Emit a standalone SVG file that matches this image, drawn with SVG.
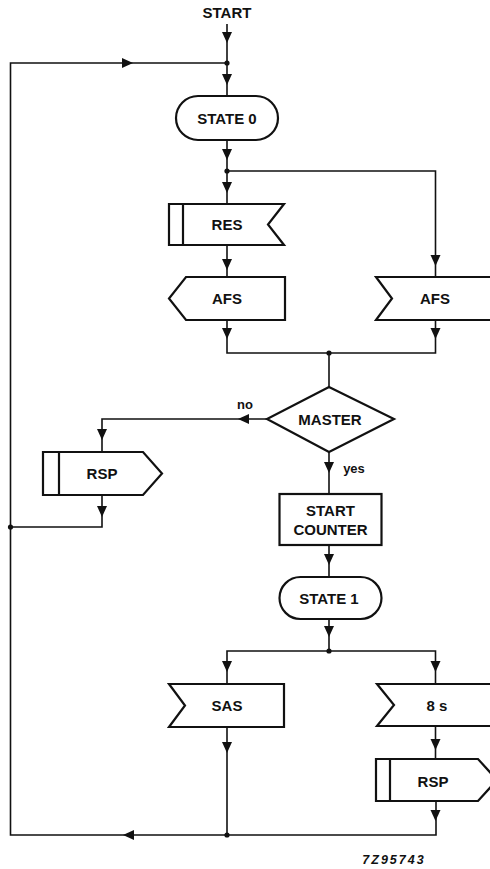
<svg xmlns="http://www.w3.org/2000/svg" width="490" height="869" viewBox="0 0 490 869">
  <style>
    .box { fill: #fff; stroke: #111; stroke-width: 2.2; stroke-linejoin: miter; }
    .bar { stroke: #111; stroke-width: 2.2; }
    .wire { fill: none; stroke: #111; stroke-width: 1.6; }
    .dot { fill: #111; }
    .head { fill: #111; }
    .lbl { font-family: "Liberation Sans", Arial, sans-serif; font-weight: bold; font-size: 15px; fill: #111; text-anchor: middle; }
    .small { font-family: "Liberation Sans", Arial, sans-serif; font-weight: bold; font-size: 13px; fill: #111; text-anchor: middle; }
    .ref { font-family: "Liberation Sans", Arial, sans-serif; font-weight: bold; font-style: italic; font-size: 12.5px; letter-spacing: 2px; fill: #111; text-anchor: middle; }
  </style>
  <defs>
    <!-- arrowhead pointing down, tip at origin -->
    <path id="ah" class="head" d="M-5,-11 L5,-11 L0,0 Z"/>
  </defs>
  <rect width="490" height="869" fill="#fff"/>

  <g id="connectors">
    <!-- main line from START into STATE 0 -->
    <path class="wire" d="M227,24 V96"/>
    <!-- return loop on the left -->
    <path class="wire" d="M227,63 H10.5 V835 H436 V801"/>
    <!-- STATE 0 fan-out -->
    <path class="wire" d="M227,140 V204"/>
    <path class="wire" d="M227,171 H435.5 V277"/>
    <path class="wire" d="M227,245 V277"/>
    <!-- merge into MASTER -->
    <path class="wire" d="M227,320 V353 H435.5 V320"/>
    <path class="wire" d="M329,353 V387"/>
    <!-- no branch -->
    <path class="wire" d="M267,419 H102 V452"/>
    <path class="wire" d="M102,495 V527 H10.5"/>
    <!-- yes branch -->
    <path class="wire" d="M329,452 V494"/>
    <path class="wire" d="M329,545 V577"/>
    <!-- STATE 1 fan-out -->
    <path class="wire" d="M329,619 V651"/>
    <path class="wire" d="M227,684 V651 H435.5 V684"/>
    <path class="wire" d="M227,727 V835"/>
    <path class="wire" d="M435.5,726 V759"/>

    <!-- arrowheads -->
    <use href="#ah" x="227" y="43"/>
    <use href="#ah" transform="translate(133,63) rotate(-90)"/>
    <use href="#ah" x="227" y="85"/>
    <use href="#ah" x="227" y="160"/>
    <use href="#ah" x="227" y="193"/>
    <use href="#ah" x="227" y="270"/>
    <use href="#ah" x="435.5" y="266"/>
    <use href="#ah" x="227" y="339"/>
    <use href="#ah" x="435.5" y="339"/>
    <use href="#ah" transform="translate(238,419) rotate(90)"/>
    <use href="#ah" x="102" y="440"/>
    <use href="#ah" x="102" y="517"/>
    <use href="#ah" x="329" y="473"/>
    <use href="#ah" x="329" y="565"/>
    <use href="#ah" x="329" y="637"/>
    <use href="#ah" x="227" y="672"/>
    <use href="#ah" x="435.5" y="672"/>
    <use href="#ah" x="227" y="753"/>
    <use href="#ah" x="435.5" y="750"/>
    <use href="#ah" x="435.5" y="821"/>
    <use href="#ah" transform="translate(123,835) rotate(90)"/>

    <!-- junction dots -->
    <circle class="dot" cx="227" cy="63" r="2.6"/>
    <circle class="dot" cx="227" cy="171" r="2.6"/>
    <circle class="dot" cx="329" cy="353" r="2.6"/>
    <circle class="dot" cx="10.5" cy="527" r="2.6"/>
    <circle class="dot" cx="329" cy="651" r="2.6"/>
    <circle class="dot" cx="227" cy="835" r="2.6"/>

    <text class="small" x="245" y="408.5">no</text>
    <text class="small" x="354" y="472.5">yes</text>
  </g>

  <g id="start">
    <text class="lbl" x="227" y="17.5">START</text>
  </g>

  <g id="state0">
    <rect class="box" x="176" y="96" width="102" height="44" rx="22"/>
    <text class="lbl" x="227" y="123.5">STATE 0</text>
  </g>

  <g id="res">
    <polygon class="box" points="169,204 284,204 268,224.5 284,245 169,245"/>
    <line class="bar" x1="183" y1="204" x2="183" y2="245"/>
    <text class="lbl" x="227" y="230">RES</text>
  </g>

  <g id="afs-send">
    <polygon class="box" points="186,277 285,277 285,320 186,320 169,298.5"/>
    <text class="lbl" x="227" y="304">AFS</text>
  </g>

  <g id="afs-receive">
    <polygon class="box" points="376,277 500,277 500,320 376,320 392,298.5"/>
    <text class="lbl" x="435" y="304">AFS</text>
  </g>

  <g id="master">
    <polygon class="box" points="329,387 394,419 329,452 267,419"/>
    <text class="lbl" x="330" y="424.5">MASTER</text>
  </g>

  <g id="rsp-left">
    <polygon class="box" points="43,452 143,452 162,473.5 143,495 43,495"/>
    <line class="bar" x1="59" y1="452" x2="59" y2="495"/>
    <text class="lbl" x="102" y="479">RSP</text>
  </g>

  <g id="start-counter">
    <rect class="box" x="279.5" y="494" width="102" height="51"/>
    <text class="lbl" x="330.5" y="516">START</text>
    <text class="lbl" x="330.5" y="534.5">COUNTER</text>
  </g>

  <g id="state1">
    <rect class="box" x="279.5" y="577" width="102" height="42" rx="21"/>
    <text class="lbl" x="329" y="603.5">STATE 1</text>
  </g>

  <g id="sas">
    <polygon class="box" points="169,684 284,684 284,727 169,727 185,705.5"/>
    <text class="lbl" x="227" y="711">SAS</text>
  </g>

  <g id="timer-8s">
    <polygon class="box" points="377,684 500,684 500,726 377,726 394,705"/>
    <text class="lbl" x="437" y="710.5">8 s</text>
  </g>

  <g id="rsp-right">
    <polygon class="box" points="376,759 478,759 497,780 478,801 376,801"/>
    <line class="bar" x1="390" y1="759" x2="390" y2="801"/>
    <text class="lbl" x="433" y="787">RSP</text>
  </g>

  <g id="drawing-number">
    <text class="ref" x="394" y="863.5">7Z95743</text>
  </g>
</svg>
